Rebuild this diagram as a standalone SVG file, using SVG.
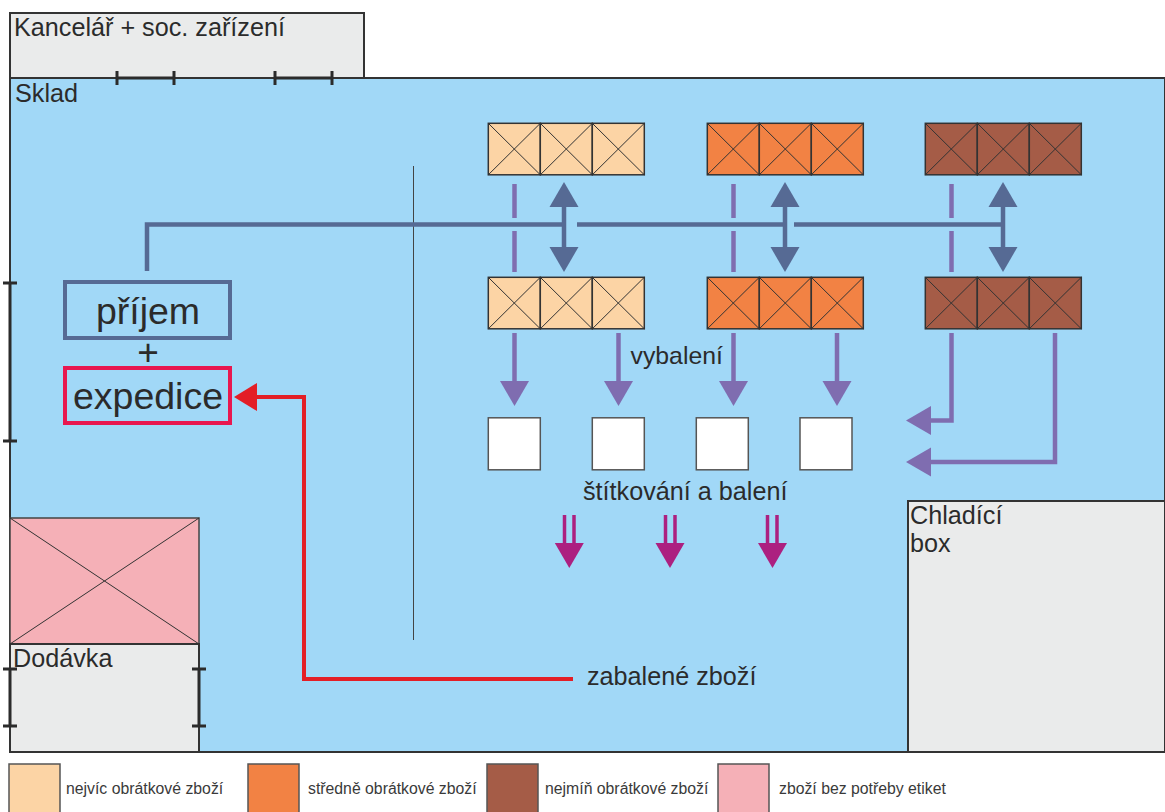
<svg xmlns="http://www.w3.org/2000/svg" xmlns:xlink="http://www.w3.org/1999/xlink" width="1165" height="812" viewBox="0 0 1165 812">
<style>
text{font-family:"Liberation Sans",Arial,sans-serif;fill:#2b2b2b}
.t25{font-size:25.200px}.t14{font-size:15.800px;fill:#3a3a3a}.t37{font-size:37.500px}
.wall{stroke:#333;stroke-width:2;fill:#eaebeb}
.thick{stroke:#2b2b2b;stroke-width:3;fill:none}
.cell{stroke:#333;stroke-width:1.500}
.x{stroke:#333;stroke-width:1;fill:none}
.blue{stroke:#566a94;stroke-width:4.500;fill:none}
.purple{stroke:#7f6db0;stroke-width:4.500;fill:none}
.mag{stroke:#ac2080;stroke-width:3.500;fill:none}
.pf{fill:#7f6db0}.bf{fill:#566a94}.mf{fill:#ac2080}
.a{fill:#fcd4a5}.b{fill:#f28244}.c{fill:#a55c47}.d{fill:#f5b0b7}
.leg{stroke:#555;stroke-width:1.500}
.w{fill:#fff;stroke:#555;stroke-width:1.500}
</style>
<defs>
<g id="cell3">
<rect class="cell" style="fill:inherit" x="0" y="0" width="52" height="51.500"/>
<rect class="cell" style="fill:inherit" x="52" y="0" width="52" height="51.500"/>
<rect class="cell" style="fill:inherit" x="104" y="0" width="52" height="51.500"/>
<path class="x" d="M0 0L52 51.500M52 0L0 51.500M52 0L104 51.500M104 0L52 51.500M104 0L156 51.500M156 0L104 51.500"/>
</g>
<path id="ad" d="M-14.500 0H14.500L0 25Z"/>
<path id="au" d="M-14.500 0H14.500L0 -25Z"/>
<path id="al" d="M0 -14.500V14.500L-25 0Z"/>
</defs>

<g id="kancelar">
<rect class="wall" x="10" y="13" width="354" height="65"/>
<text class="t25" x="14" y="36">Kancelář + soc. zařízení</text>
</g>
<g id="sklad">
<rect x="10" y="78" width="1155" height="674" fill="#a1d8f7" stroke="#333" stroke-width="2"/>
<text class="t25" x="15" y="102">Sklad</text>
<path class="thick" d="M117 78H174M117 71V85M174 71V85M275 78H332M275 71V85M332 71V85"/>
<path class="thick" d="M10 283V441M3 283H17M3 441H17"/>
<path d="M413.500 166V640" stroke="#444" stroke-width="1"/>
</g>
<g id="nezbozi">
<rect class="d" x="10" y="518" width="189" height="126" stroke="#444" stroke-width="1.500"/>
<path class="x" d="M10 518L199 644M199 518L10 644"/>
</g>
<g id="dodavka">
<rect class="wall" x="10" y="644" width="189" height="108"/>
<text class="t25" x="13" y="667">Dodávka</text>
<path class="thick" d="M10 669V726M3 669H17M3 726H17M199 669V726M192 669H206M192 726H206"/>
</g>
<g id="chladici-box">
<rect class="wall" x="908" y="501" width="257" height="251"/>
<text class="t25" x="910" y="524">Chladící</text>
<text class="t25" x="910" y="552">box</text>
</g>

<g id="connectors">
<path class="blue" d="M147 271V224.500H563M577 224.500H783M794 224.500H1003"/>
<path class="blue" d="M564 205V248M785 205V248M1003 205V248"/>
<use class="bf" xlink:href="#au" x="564" y="207"/><use class="bf" xlink:href="#ad" x="564" y="247"/>
<use class="bf" xlink:href="#au" x="785" y="207"/><use class="bf" xlink:href="#ad" x="785" y="247"/>
<use class="bf" xlink:href="#au" x="1003" y="207"/><use class="bf" xlink:href="#ad" x="1003" y="247"/>
<path class="purple" d="M514.500 184V218M514.500 231V272M733.500 184V218M733.500 231V272M951.500 184V218M951.500 231V272"/>
<path class="purple" d="M514.500 333V382M618.500 333V382M733.500 333V382M837 333V382"/>
<use class="pf" xlink:href="#ad" x="514.500" y="381"/><use class="pf" xlink:href="#ad" x="618.500" y="381"/><use class="pf" xlink:href="#ad" x="733.500" y="381"/><use class="pf" xlink:href="#ad" x="837" y="381"/>
<path class="purple" d="M951.500 333V420.500H930M1055 333V462H930"/>
<use class="pf" xlink:href="#al" x="931" y="420.500"/><use class="pf" xlink:href="#al" x="931" y="462"/>
<path class="mag" d="M564.500 515V544M574 515V544M665.500 515V544M675 515V544M767.500 515V544M777 515V544"/>
<use class="mf" xlink:href="#ad" x="569.300" y="543"/><use class="mf" xlink:href="#ad" x="670" y="543"/><use class="mf" xlink:href="#ad" x="772.500" y="543"/>
<path d="M573 679H304V397H256" fill="none" stroke="#e31e26" stroke-width="4"/>
<path d="M257 383V411L234 397Z" fill="#e31e26"/>
</g>

<g id="prijem">
<rect x="65" y="282" width="165" height="56" fill="none" stroke="#566a94" stroke-width="4"/>
<text class="t37" x="148" y="324" text-anchor="middle">příjem</text>
</g>
<text id="plus" x="148" y="365" text-anchor="middle" font-size="37">+</text>
<g id="expedice">
<rect x="65" y="368" width="165" height="55" fill="none" stroke="#e8174f" stroke-width="4"/>
<text class="t37" x="148" y="409" text-anchor="middle">expedice</text>
</g>

<g id="regal-a-horni" class="a"><use xlink:href="#cell3" x="488.300" y="123.300"/></g>
<g id="regal-b-horni" class="b"><use xlink:href="#cell3" x="707.300" y="123.300"/></g>
<g id="regal-c-horni" class="c"><use xlink:href="#cell3" x="925.300" y="123.300"/></g>
<g id="regal-a-dolni" class="a"><use xlink:href="#cell3" x="488.300" y="277.300"/></g>
<g id="regal-b-dolni" class="b"><use xlink:href="#cell3" x="707.300" y="277.300"/></g>
<g id="regal-c-dolni" class="c"><use xlink:href="#cell3" x="925.300" y="277.300"/></g>

<g id="stoly">
<rect class="w" x="488.300" y="417.800" width="52" height="52"/>
<rect class="w" x="592.300" y="417.800" width="52" height="52"/>
<rect class="w" x="696.300" y="417.800" width="52" height="52"/>
<rect class="w" x="800" y="417.800" width="52" height="52"/>
</g>
<text id="vybaleni" class="t25" x="630.500" y="364" style="font-size:24.800px">vybalení</text>
<text id="stitkovani" class="t25" x="583" y="500">štítkování a balení</text>
<text id="zabalene" class="t25" x="587" y="685">zabalené zboží</text>

<g id="legenda">
<rect class="a leg" x="9" y="764" width="51" height="52"/>
<text class="t14" x="66" y="794">nejvíc obrátkové zboží</text>
<rect class="b leg" x="248" y="764" width="51" height="52"/>
<text class="t14" x="308" y="794">středně obrátkové zboží</text>
<rect class="c leg" x="487" y="764" width="51" height="52"/>
<text class="t14" x="545" y="794">nejmíň obrátkové zboží</text>
<rect class="d leg" x="718" y="764" width="51" height="52"/>
<text class="t14" x="779" y="794">zboží bez potřeby etiket</text>
</g>
</svg>
